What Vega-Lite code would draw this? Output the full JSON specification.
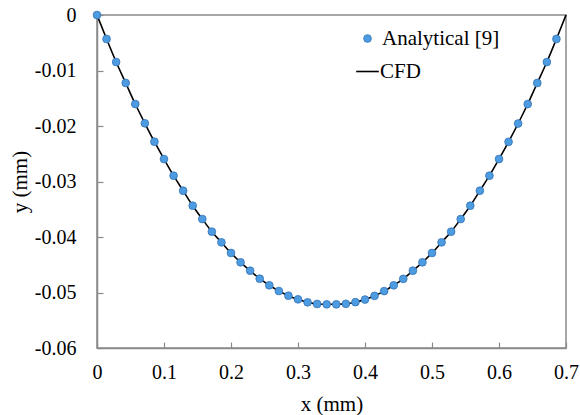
{
  "$schema": "https://vega.github.io/schema/vega-lite/v6.json",
  "width": 469,
  "height": 333,
  "autosize": {"type": "none"},
  "padding": {"left": 97, "top": 15, "right": 14, "bottom": 67},
  "background": "white",
  "config": {
    "view": {"stroke": "#8a8a8a", "strokeWidth": 1.5},
    "font": "Liberation Serif, DejaVu Serif, serif",
    "axis": {
      "grid": false,
      "domainColor": "#8a8a8a",
      "domainWidth": 1.5,
      "tickColor": "#8a8a8a",
      "tickWidth": 1.2,
      "tickSize": -6,
      "labelFlush": false,
      "labelFont": "Liberation Serif, DejaVu Serif, serif",
      "labelFontSize": 20,
      "labelColor": "black",
      "titleFont": "Liberation Serif, DejaVu Serif, serif",
      "titleFontSize": 21,
      "titleFontWeight": "normal",
      "titleColor": "black"
    },
    "legend": {
      "labelFont": "Liberation Serif, DejaVu Serif, serif",
      "labelFontSize": 21,
      "labelColor": "black",
      "padding": 0
    }
  },
  "data": {
    "values": [
      {"x": 0, "analytical": 0, "cfd": 0},
      {"x": 0.01429, "analytical": -0.00432, "cfd": -0.00432},
      {"x": 0.02857, "analytical": -0.00847, "cfd": -0.00847},
      {"x": 0.04286, "analytical": -0.01225, "cfd": -0.01225},
      {"x": 0.05714, "analytical": -0.01604, "cfd": -0.01604},
      {"x": 0.07143, "analytical": -0.01951, "cfd": -0.01951},
      {"x": 0.08571, "analytical": -0.02283, "cfd": -0.02283},
      {"x": 0.1, "analytical": -0.02595, "cfd": -0.02595},
      {"x": 0.11429, "analytical": -0.02895, "cfd": -0.02895},
      {"x": 0.12857, "analytical": -0.03166, "cfd": -0.03166},
      {"x": 0.14286, "analytical": -0.03436, "cfd": -0.03436},
      {"x": 0.15714, "analytical": -0.03676, "cfd": -0.03676},
      {"x": 0.17143, "analytical": -0.03904, "cfd": -0.03904},
      {"x": 0.18571, "analytical": -0.04096, "cfd": -0.04096},
      {"x": 0.2, "analytical": -0.04288, "cfd": -0.04288},
      {"x": 0.21429, "analytical": -0.04456, "cfd": -0.04456},
      {"x": 0.22857, "analytical": -0.04607, "cfd": -0.04607},
      {"x": 0.24286, "analytical": -0.04751, "cfd": -0.04751},
      {"x": 0.25714, "analytical": -0.0487, "cfd": -0.0487},
      {"x": 0.27143, "analytical": -0.04973, "cfd": -0.04973},
      {"x": 0.28571, "analytical": -0.05058, "cfd": -0.05058},
      {"x": 0.3, "analytical": -0.05123, "cfd": -0.05123},
      {"x": 0.31429, "analytical": -0.05177, "cfd": -0.05177},
      {"x": 0.32857, "analytical": -0.05207, "cfd": -0.05207},
      {"x": 0.34286, "analytical": -0.05213, "cfd": -0.05213},
      {"x": 0.35714, "analytical": -0.05213, "cfd": -0.05213},
      {"x": 0.37143, "analytical": -0.05204, "cfd": -0.05204},
      {"x": 0.38571, "analytical": -0.05174, "cfd": -0.05174},
      {"x": 0.4, "analytical": -0.05127, "cfd": -0.05127},
      {"x": 0.41429, "analytical": -0.0506, "cfd": -0.0506},
      {"x": 0.42857, "analytical": -0.04975, "cfd": -0.04975},
      {"x": 0.44286, "analytical": -0.0487, "cfd": -0.0487},
      {"x": 0.45714, "analytical": -0.04754, "cfd": -0.04754},
      {"x": 0.47143, "analytical": -0.04607, "cfd": -0.04607},
      {"x": 0.48571, "analytical": -0.04456, "cfd": -0.04456},
      {"x": 0.5, "analytical": -0.04288, "cfd": -0.04288},
      {"x": 0.51429, "analytical": -0.04096, "cfd": -0.04096},
      {"x": 0.52857, "analytical": -0.03904, "cfd": -0.03904},
      {"x": 0.54286, "analytical": -0.03676, "cfd": -0.03676},
      {"x": 0.55714, "analytical": -0.03436, "cfd": -0.03436},
      {"x": 0.57143, "analytical": -0.03166, "cfd": -0.03166},
      {"x": 0.58571, "analytical": -0.02895, "cfd": -0.02895},
      {"x": 0.6, "analytical": -0.02595, "cfd": -0.02595},
      {"x": 0.61429, "analytical": -0.02285, "cfd": -0.02285},
      {"x": 0.62857, "analytical": -0.01955, "cfd": -0.01955},
      {"x": 0.64286, "analytical": -0.01604, "cfd": -0.01604},
      {"x": 0.65714, "analytical": -0.01225, "cfd": -0.01225},
      {"x": 0.67143, "analytical": -0.00847, "cfd": -0.00847},
      {"x": 0.68571, "analytical": -0.00432, "cfd": -0.00432},
      {"x": 0.7, "analytical": null, "cfd": 0}
    ]
  },
  "encoding": {
    "x": {
      "field": "x",
      "type": "quantitative",
      "scale": {"domain": [0, 0.7], "nice": false, "zero": false},
      "axis": {
        "values": [0, 0.1, 0.2, 0.3, 0.4, 0.5, 0.6, 0.7],
        "labelExpr": "'' + datum.value",
        "labelPadding": 20,
        "titlePadding": 11,
        "title": "x (mm)"
      }
    }
  },
  "layer": [
    {
      "mark": {"type": "line", "strokeWidth": 1.6, "interpolate": "monotone"},
      "encoding": {
        "y": {
          "field": "cfd",
          "type": "quantitative",
          "scale": {"domain": [-0.06, 0], "nice": false, "zero": false},
          "axis": {
            "values": [-0.06, -0.05, -0.04, -0.03, -0.02, -0.01, 0],
            "labelExpr": "'' + datum.value",
            "labelPadding": 27,
            "titlePadding": 4,
            "title": "y (mm)"
          }
        },
        "stroke": {
          "datum": "CFD",
          "scale": {"range": ["black"]},
          "legend": {
            "title": null,
            "orient": "none",
            "legendX": 258,
            "legendY": 44,
            "symbolType": "stroke",
            "symbolSize": 512,
            "symbolStrokeWidth": 1.6,
            "labelOffset": 0
          }
        }
      }
    },
    {
      "mark": {"type": "point", "filled": true, "size": 60, "stroke": "#3574b5", "strokeWidth": 0.8, "opacity": 1},
      "encoding": {
        "y": {"field": "analytical", "type": "quantitative"},
        "fill": {
          "datum": "Analytical [9]",
          "scale": {"range": ["#4d9be0"]},
          "legend": {
            "title": null,
            "orient": "none",
            "legendX": 260,
            "legendY": 13,
            "symbolType": "circle",
            "symbolSize": 60,
            "symbolStrokeColor": "#3574b5",
            "symbolStrokeWidth": 0.8,
            "labelOffset": 4
          }
        }
      }
    }
  ]
}
